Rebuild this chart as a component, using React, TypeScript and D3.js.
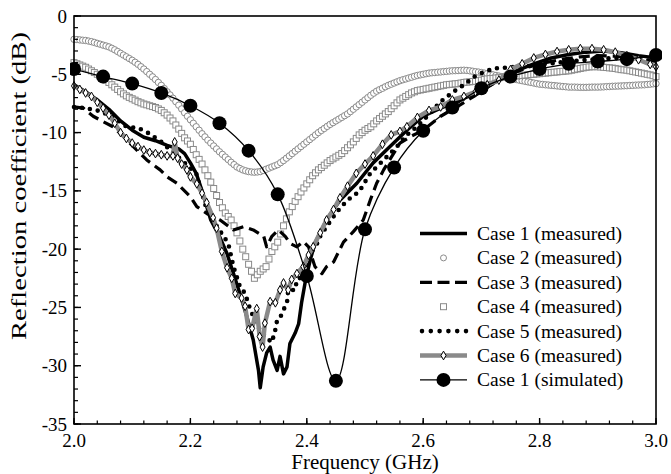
import React from 'react';
import * as d3 from 'd3';

const W = 671;
const H = 474;

// ---- data -----------------------------------------------------------
const gridF = d3.range(0, 201).map((i) => 2 + i * 0.005);

const case2Values = [
  -2.0, -2.02, -2.05, -2.08, -2.1, -2.15, -2.2, -2.27, -2.35, -2.42,
  -2.5, -2.57, -2.65, -2.77, -2.9, -3.05, -3.2, -3.35, -3.5, -3.65,
  -3.8, -3.97, -4.15, -4.35, -4.55, -4.77, -5.0, -5.22, -5.45, -5.7,
  -5.95, -6.22, -6.5, -6.77, -7.05, -7.35, -7.65, -7.97, -8.3, -8.6,
  -8.9, -9.2, -9.5, -9.8, -10.1, -10.37, -10.65, -10.9, -11.15, -11.4,
  -11.65, -11.87, -12.1, -12.32, -12.55, -12.75, -12.95, -13.08, -13.2, -13.28,
  -13.35, -13.38, -13.4, -13.38, -13.35, -13.25, -13.15, -13.05, -12.95, -12.85,
  -12.75, -12.58, -12.4, -12.2, -12.0, -11.8, -11.6, -11.4, -11.2, -11.0,
  -10.8, -10.6, -10.4, -10.2, -10.0, -9.82, -9.65, -9.47, -9.3, -9.15,
  -9.0, -8.85, -8.7, -8.55, -8.4, -8.2, -8.0, -7.8, -7.6, -7.4,
  -7.2, -7.0, -6.8, -6.62, -6.45, -6.32, -6.2, -6.07, -5.95, -5.85,
  -5.75, -5.65, -5.55, -5.47, -5.4, -5.32, -5.25, -5.17, -5.1, -5.05,
  -5.0, -4.95, -4.9, -4.87, -4.85, -4.82, -4.8, -4.77, -4.75, -4.72,
  -4.7, -4.69, -4.68, -4.66, -4.65, -4.67, -4.7, -4.74, -4.78, -4.81,
  -4.85, -4.9, -4.95, -5.0, -5.05, -5.1, -5.15, -5.2, -5.25, -5.3,
  -5.35, -5.4, -5.45, -5.5, -5.55, -5.6, -5.65, -5.7, -5.75, -5.8,
  -5.85, -5.87, -5.9, -5.92, -5.95, -5.97, -6.0, -6.02, -6.05, -6.07,
  -6.1, -6.1, -6.1, -6.11, -6.12, -6.12, -6.12, -6.11, -6.1, -6.1,
  -6.1, -6.09, -6.08, -6.06, -6.05, -6.03, -6.02, -6.01, -6.0, -5.99,
  -5.98, -5.96, -5.95, -5.93, -5.92, -5.91, -5.9, -5.87, -5.85, -5.82,
  -5.8,
];

const case4Values = [
  -4.0, -4.1, -4.2, -4.3, -4.4, -4.55, -4.7, -4.85, -5.0, -5.15,
  -5.3, -5.5, -5.7, -5.9, -6.1, -6.3, -6.5, -6.68, -6.85, -6.98,
  -7.1, -7.22, -7.35, -7.45, -7.55, -7.62, -7.7, -7.77, -7.85, -7.97,
  -8.1, -8.3, -8.5, -8.75, -9.0, -9.35, -9.7, -10.07, -10.45, -10.72,
  -11.0, -11.45, -11.9, -12.3, -12.7, -13.2, -13.7, -14.25, -14.8, -15.4,
  -16.0, -16.45, -16.9, -17.2, -17.5, -18.0, -18.6, -19.3, -20.0, -20.65,
  -21.3, -21.9, -22.5, -22.2, -21.9, -21.7, -21.5, -20.85, -20.2, -19.8,
  -19.4, -18.7, -18.0, -17.4, -16.8, -16.35, -15.9, -15.5, -15.1, -14.75,
  -14.4, -14.05, -13.7, -13.45, -13.2, -13.0, -12.8, -12.6, -12.4, -12.25,
  -12.1, -11.95, -11.8, -11.55, -11.3, -11.05, -10.8, -10.5, -10.2, -10.0,
  -9.8, -9.65, -9.5, -9.25, -9.0, -8.8, -8.6, -8.4, -8.2, -7.95,
  -7.7, -7.45, -7.2, -7.05, -6.9, -6.75, -6.6, -6.5, -6.4, -6.35,
  -6.3, -6.25, -6.2, -6.15, -6.1, -6.05, -6.0, -5.95, -5.9, -5.87,
  -5.85, -5.82, -5.8, -5.75, -5.7, -5.67, -5.65, -5.62, -5.6, -5.55,
  -5.5, -5.45, -5.4, -5.37, -5.35, -5.32, -5.3, -5.27, -5.25, -5.22,
  -5.2, -5.17, -5.15, -5.12, -5.1, -5.07, -5.05, -5.02, -5.0, -4.97,
  -4.95, -4.92, -4.9, -4.87, -4.85, -4.82, -4.8, -4.77, -4.75, -4.72,
  -4.7, -4.65, -4.6, -4.55, -4.5, -4.45, -4.4, -4.37, -4.35, -4.35,
  -4.35, -4.37, -4.4, -4.42, -4.45, -4.47, -4.5, -4.55, -4.6, -4.62,
  -4.65, -4.7, -4.75, -4.8, -4.85, -4.9, -4.95, -5.0, -5.05, -5.12,
  -5.2,
];

const case1F = [
  2.0, 2.02, 2.04, 2.06, 2.08, 2.1, 2.12, 2.14, 2.16, 2.18, 2.19, 2.2, 2.21, 2.22,
  2.235, 2.25, 2.263, 2.274, 2.285, 2.297, 2.308, 2.317, 2.32, 2.325, 2.331, 2.337,
  2.342, 2.349, 2.354, 2.36, 2.366, 2.371, 2.38, 2.386, 2.391, 2.397, 2.406, 2.414,
  2.423, 2.434, 2.446, 2.457, 2.486, 2.514, 2.543, 2.572, 2.6, 2.63, 2.66, 2.69,
  2.72, 2.75, 2.79, 2.82, 2.85, 2.88, 2.91, 2.94, 2.97, 3.0,
];
const case1V = [
  -5.9, -6.5, -7.2, -8.0, -9.0, -9.8, -10.4, -10.7, -11.1, -11.4, -11.8, -12.6, -13.5, -15.0,
  -17.5, -18.9, -20.4, -22.1, -23.8, -25.8, -27.8, -30.4, -31.9, -30.1, -28.9, -28.4,
  -29.5, -30.4, -29.2, -30.7, -30.1, -28.1, -27.2, -26.4, -24.6, -22.9, -20.9, -19.5,
  -18.6, -17.5, -16.6, -15.8, -14.35, -12.6, -11.2, -9.8, -8.6, -7.9, -7.3, -6.6,
  -5.8, -4.9, -4.1, -3.6, -3.3, -3.1, -3.0, -3.15, -3.4, -3.6,
];

const case3F = [
  2.0, 2.016, 2.033, 2.05, 2.067, 2.085, 2.108, 2.125, 2.148, 2.16, 2.177, 2.2, 2.211,
  2.23, 2.251, 2.274, 2.291, 2.308, 2.326, 2.331, 2.34, 2.351, 2.363, 2.371, 2.383,
  2.394, 2.403, 2.414, 2.426, 2.434, 2.446, 2.463, 2.48, 2.497, 2.509, 2.52, 2.532,
  2.549, 2.56, 2.578, 2.6, 2.63, 2.658, 2.69, 2.72, 2.75, 2.78, 2.81, 2.84, 2.87,
  2.9, 2.93, 2.96, 3.0,
];
const case3V = [
  -7.8, -7.9, -8.6, -9.06, -9.5, -10.35, -11.5, -12.35, -13.2, -13.8, -14.35, -15.5, -16.35,
  -17.0, -17.5, -18.35, -18.07, -18.35, -18.9, -19.8, -18.9, -18.35, -18.9, -19.5, -19.8,
  -19.35, -19.8, -21.5, -22.1, -21.5, -21.1, -19.4, -18.5, -17.5, -15.8, -14.35, -13.2,
  -11.8, -10.9, -10.35, -9.8, -8.6, -7.8, -6.8, -5.8, -5.0, -4.4, -4.0, -3.7, -3.5,
  -3.4, -3.45, -3.6, -3.9,
];

const case5F = [
  2.0, 2.02, 2.04, 2.06, 2.08, 2.09, 2.11, 2.13, 2.15, 2.17, 2.19, 2.21, 2.228, 2.245,
  2.265, 2.274, 2.285, 2.294, 2.303, 2.311, 2.32, 2.331, 2.34, 2.346, 2.349, 2.354,
  2.36, 2.366, 2.368, 2.38, 2.383, 2.394, 2.406, 2.417, 2.423, 2.434, 2.446, 2.457,
  2.47, 2.49, 2.509, 2.532, 2.555, 2.572, 2.589, 2.607, 2.63, 2.652, 2.67, 2.692,
  2.721, 2.75, 2.78, 2.82, 2.85, 2.88, 2.91, 2.94, 2.97, 3.0,
];
const case5V = [
  -7.8, -7.9, -8.1, -8.5, -9.1, -9.5, -9.6, -10.1, -10.8, -11.7, -12.6, -13.5, -16.6, -18.0,
  -19.5, -21.5, -23.2, -23.8, -25.2, -26.1, -27.0, -27.6, -28.0, -26.9, -26.1, -25.9,
  -25.2, -24.6, -23.5, -23.5, -22.6, -22.35, -20.35, -19.6, -18.9, -18.07, -17.2, -16.5,
  -15.8, -15.06, -13.5, -12.35, -11.2, -10.2, -9.5, -8.6, -7.35, -6.5, -5.9, -5.06,
  -4.5, -4.4, -4.3, -4.06, -3.9, -3.77, -3.65, -3.6, -3.7, -3.9,
];

const case6F = [
  2.0, 2.01, 2.02, 2.03, 2.04, 2.05, 2.06, 2.07, 2.08, 2.09, 2.1, 2.11, 2.12, 2.13,
  2.14, 2.15, 2.16, 2.17, 2.173, 2.178, 2.185, 2.194, 2.2, 2.211, 2.22, 2.228, 2.239,
  2.245, 2.254, 2.263, 2.271, 2.277, 2.288, 2.294, 2.3, 2.306, 2.314, 2.319, 2.324,
  2.328, 2.337, 2.346, 2.354, 2.36, 2.368, 2.374, 2.383, 2.394, 2.403, 2.411, 2.423,
  2.434, 2.446, 2.457, 2.47, 2.485, 2.5, 2.514, 2.53, 2.545, 2.56, 2.572, 2.59, 2.61,
  2.63, 2.65, 2.67, 2.69, 2.71, 2.73, 2.75, 2.77, 2.79, 2.81, 2.83, 2.85, 2.87, 2.89,
  2.91, 2.93, 2.95, 2.97, 2.99, 3.0,
];
const case6V = [
  -6.0, -6.3, -6.6, -6.9, -7.4, -7.9, -8.5, -9.2, -10.0, -10.5, -10.9, -11.2, -11.5, -11.7,
  -11.8, -11.9, -12.0, -12.0, -10.8, -12.2, -12.7, -13.2, -13.8, -14.4, -15.2, -16.0, -17.3,
  -18.2, -20.2, -21.6, -22.5, -23.8, -24.2, -24.9, -26.9, -26.8, -25.1, -27.5, -28.4,
  -26.35, -24.5, -24.6, -23.5, -22.9, -23.5, -22.6, -22.1, -21.5, -20.5, -19.8, -18.6,
  -17.5, -16.6, -15.6, -14.6, -13.5, -12.7, -12.0, -11.0, -10.2, -9.9, -9.5, -8.7, -8.1,
  -7.8, -7.2, -6.9, -6.5, -5.9, -5.5, -4.6, -4.1, -3.6, -3.3, -3.05, -2.9, -2.8, -2.8,
  -2.9, -3.1, -3.4, -3.75, -4.15, -4.35,
];

const simF = d3.range(0, 21).map((i) => 2 + i * 0.05);
const simV = [
  -4.55, -5.2, -5.8, -6.6, -7.7, -9.2, -11.55, -15.3, -22.3, -31.3,
  -18.3, -13.0, -9.85, -7.85, -6.2, -5.2, -4.55, -4.1, -3.9, -3.7, -3.35,
];

const xMajorTicks = [2.0, 2.2, 2.4, 2.6, 2.8, 3.0];
const xMinorTicks = d3.range(0, 26).map((i) => 2 + i * 0.04);
const yMajorTicks = [0, -5, -10, -15, -20, -25, -30, -35];
const yMinorTicks = d3.range(0, 36).map((i) => -i);

const legendLabels = [
  'Case 1 (measured)',
  'Case 2 (measured)',
  'Case 3 (measured)',
  'Case 4 (measured)',
  'Case 5 (measured)',
  'Case 6 (measured)',
  'Case 1 (simulated)',
];

// ---- component ------------------------------------------------------
const FONT = '"Liberation Serif", "Times New Roman", serif';
const GREY = '#8a8a8a';

type P = [number, number];
const zip = (f: number[], v: number[]): P[] => f.map((ff, i) => [ff, v[i]] as P);

export default function App() {
  const x = d3.scaleLinear().domain([2, 3]).range([74, 656]);
  const y = d3.scaleLinear().domain([-35, 0]).range([424, 16]);
  const line = d3
    .line<P>()
    .x((d) => x(d[0]))
    .y((d) => y(d[1]));
  const smooth = d3
    .line<P>()
    .x((d) => x(d[0]))
    .y((d) => y(d[1]))
    .curve(d3.curveCatmullRom.alpha(0.5));

  const c1 = zip(case1F, case1V);
  const c2 = zip(gridF, case2Values);
  const c3 = zip(case3F, case3V);
  const c4 = zip(gridF, case4Values);
  const c5 = zip(case5F, case5V);
  const c6 = zip(case6F, case6V);
  const sim = zip(simF, simV);

  const diamond = d3.symbol().type(d3.symbolDiamond).size(22)() as string;

  const legendY = (i: number) => 233.5 + i * 24.4;
  const lx0 = 420;
  const lx1 = 467;
  const lxm = (lx0 + lx1) / 2;

  return (
    <svg
      width={W}
      height={H}
      style={{ position: 'absolute', left: 0, top: 0, background: '#fff' }}
      fontFamily={FONT}
    >
      <rect x={0} y={0} width={W} height={H} fill="#fff" />
      <defs>
        <clipPath id="plotclip">
          <rect x={70} y={12} width={592} height={416} />
        </clipPath>
      </defs>

      <g clipPath="url(#plotclip)">
        {c2.map((d, i) => (
          <circle
            key={'c2' + i}
            cx={x(d[0])}
            cy={y(d[1])}
            r={3.2}
            fill="#fff"
            stroke={GREY}
            strokeWidth={1}
          />
        ))}
        {c4.map((d, i) => (
          <rect
            key={'c4' + i}
            x={x(d[0]) - 3}
            y={y(d[1]) - 3}
            width={6}
            height={6}
            fill="#fff"
            stroke={GREY}
            strokeWidth={1}
          />
        ))}
        <path d={line(c1) as string} fill="none" stroke="#000" strokeWidth={3.5} strokeLinejoin="round" />
        <path
          d={line(c3) as string}
          fill="none"
          stroke="#000"
          strokeWidth={3.2}
          strokeDasharray="11 6"
          strokeLinejoin="round"
        />
        <path
          d={line(c5) as string}
          fill="none"
          stroke="#000"
          strokeWidth={4.6}
          strokeDasharray="0 8"
          strokeLinecap="round"
        />
        <path d={line(c6) as string} fill="none" stroke={GREY} strokeWidth={4.5} strokeLinejoin="round" />
        {c6.map((d, i) => (
          <path
            key={'c6' + i}
            d={diamond}
            transform={`translate(${x(d[0])},${y(d[1])})`}
            fill="#fff"
            stroke="#000"
            strokeWidth={1}
          />
        ))}
        <path d={smooth(sim) as string} fill="none" stroke="#000" strokeWidth={1.3} />
        {sim.map((d, i) => (
          <circle key={'s' + i} cx={x(d[0])} cy={y(d[1])} r={7} fill="#000" />
        ))}
      </g>

      <rect x={74} y={16} width={582} height={408} fill="none" stroke="#000" strokeWidth={1.6} />

      {xMinorTicks.map((t, i) => (
        <line key={'xm' + i} x1={x(t)} x2={x(t)} y1={424} y2={420.5} stroke="#000" strokeWidth={1.2} />
      ))}
      {xMajorTicks.map((t, i) => (
        <g key={'xM' + i}>
          <line x1={x(t)} x2={x(t)} y1={424} y2={418} stroke="#000" strokeWidth={1.4} />
          <text x={x(t)} y={447} textAnchor="middle" fontSize={19}>
            {t.toFixed(1)}
          </text>
        </g>
      ))}

      {yMinorTicks.map((t, i) => (
        <line key={'ym' + i} x1={74} x2={78} y1={y(t)} y2={y(t)} stroke="#000" strokeWidth={1.2} />
      ))}
      {yMajorTicks.map((t, i) => (
        <g key={'yM' + i}>
          <line x1={74} x2={81} y1={y(t)} y2={y(t)} stroke="#000" strokeWidth={1.4} />
          <text x={67} y={y(t) + 6.5} textAnchor="end" fontSize={19}>
            {String(t)}
          </text>
        </g>
      ))}

      <text x={365} y={469} textAnchor="middle" fontSize={21}>
        Frequency (GHz)
      </text>
      <text
        transform="translate(26,186) rotate(-90)"
        textAnchor="middle"
        fontSize={20}
        textLength={308}
        lengthAdjust="spacingAndGlyphs"
      >
        Reflection coefficient (dB)
      </text>

      <g>
        <line x1={lx0} x2={lx1} y1={legendY(0)} y2={legendY(0)} stroke="#000" strokeWidth={3.5} />
        <circle cx={lxm} cy={legendY(1)} r={3} fill="#fff" stroke={GREY} strokeWidth={1} />
        <line
          x1={lx0}
          x2={lx1}
          y1={legendY(2)}
          y2={legendY(2)}
          stroke="#000"
          strokeWidth={3.2}
          strokeDasharray="12 5.5"
        />
        <rect x={lxm - 3} y={legendY(3) - 3} width={6} height={6} fill="#fff" stroke={GREY} strokeWidth={1} />
        <line
          x1={lx0 + 2}
          x2={lx1}
          y1={legendY(4)}
          y2={legendY(4)}
          stroke="#000"
          strokeWidth={4.6}
          strokeDasharray="0 8.8"
          strokeLinecap="round"
        />
        <line x1={lx0} x2={lx1} y1={legendY(5)} y2={legendY(5)} stroke={GREY} strokeWidth={4.5} />
        <path
          d={diamond}
          transform={`translate(${lxm},${legendY(5)})`}
          fill="#fff"
          stroke="#000"
          strokeWidth={1}
        />
        <line x1={lx0} x2={lx1} y1={legendY(6)} y2={legendY(6)} stroke="#000" strokeWidth={1.3} />
        <circle cx={lxm} cy={legendY(6)} r={7} fill="#000" />

        {legendLabels.map((s, i) => (
          <text key={'lg' + i} x={477} y={legendY(i) + 6.5} fontSize={19.5}>
            {s}
          </text>
        ))}
      </g>
    </svg>
  );
}
